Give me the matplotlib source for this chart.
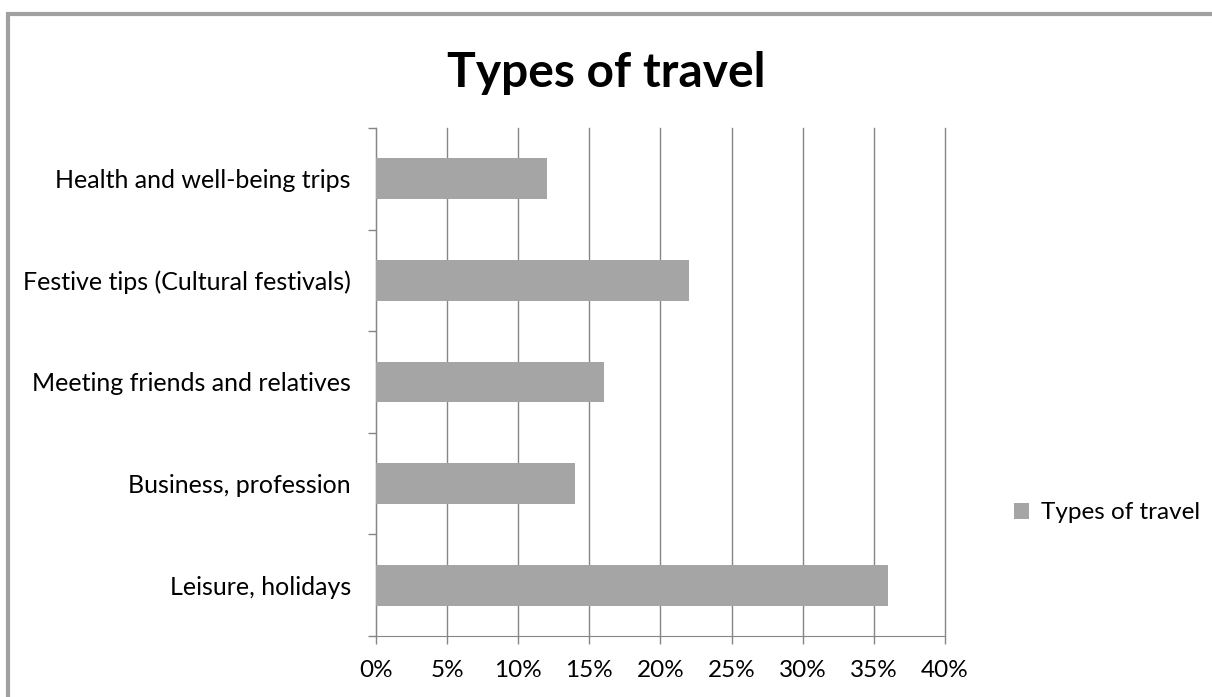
import matplotlib.pyplot as plt
from matplotlib.patches import Rectangle
from matplotlib.ticker import MultipleLocator, PercentFormatter

categories = ["Leisure, holidays", "Business, profession", "Meeting friends and relatives",
              "Festive tips (Cultural festivals)", "Health and well-being trips"]
shares = [36, 14, 16, 22, 12]
series_name = "Types of travel"

plt.rcParams['font.family'] = ['Lato', 'DejaVu Sans']

fig = plt.figure(figsize=(12.12, 6.97), dpi=100)
ax = fig.add_axes([0.3102, 0.0875, 0.4695, 0.729])

ypos = range(len(categories))
ax.barh(ypos, shares, height=0.4, color='#a5a5a5', label=series_name, zorder=3)

ax.set_xlim(0, 40)
ax.set_ylim(-0.5, len(categories) - 0.5)
ax.xaxis.set_major_locator(MultipleLocator(5))
ax.xaxis.set_major_formatter(PercentFormatter(decimals=0))
ax.set_yticks([i - 0.5 for i in range(len(categories) + 1)], minor=False)
ax.set_yticklabels([])
ax.set_yticks(list(ypos), minor=True)
ax.set_yticklabels(categories, minor=True)
ax.tick_params(axis='y', which='minor', length=0, pad=18, labelsize=18)
ax.tick_params(axis='y', which='major', length=6, color='#868686', width=1)
ax.tick_params(axis='x', length=6, color='#868686', width=1, labelsize=17.5, pad=11)

ax.grid(axis='x', color='#868686', linewidth=1, zorder=0)
for line in ax.get_xgridlines():
    line.set_clip_on(False)
for side in ['top', 'right']:
    ax.spines[side].set_visible(False)
for side in ['left', 'bottom']:
    ax.spines[side].set_color('#868686')

fig.suptitle(series_name, x=0.5, y=0.927, fontsize=34.5, fontweight='bold')

ax.legend(loc='center left', bbox_to_anchor=(0.8186, 0.264), bbox_transform=fig.transFigure,
          frameon=False, fontsize=17.5, handlelength=0.6, handleheight=0.6, handletextpad=0.5)

# chart frame, cut off at right and bottom
fig.patches.append(Rectangle((8 / 1212, -0.1), 1.2, 1.1 - 14 / 697, transform=fig.transFigure,
                             fill=False, edgecolor='#a0a0a0', linewidth=3))

fig.savefig('out.png', dpi=100)
